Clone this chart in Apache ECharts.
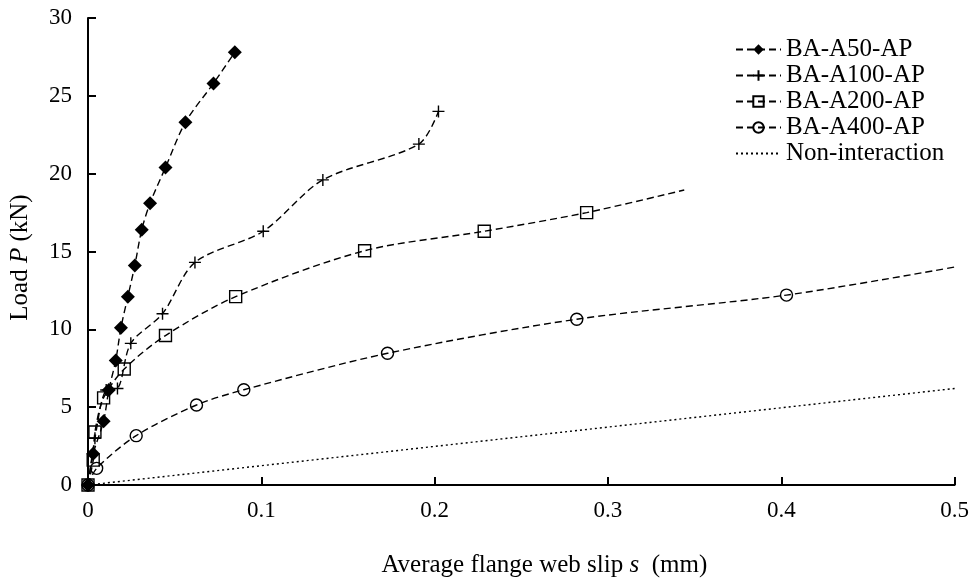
<!DOCTYPE html>
<html lang="en">
<head>
    <meta charset="UTF-8">
    <title>Load-slip</title>
    <style>
        html, body { margin: 0; padding: 0; background: #fff; }
    </style>
</head>
<body>
<script src="https://cdn.jsdelivr.net/npm/echarts@6/dist/echarts.min.js"></script>
<div id="main" style="width:972px;height:584px;"></div>

<script type="text/javascript">
    // values (slip in mm, load in kN)
    var a50Slip = [0, 0.003, 0.009, 0.012, 0.016, 0.019, 0.023, 0.027, 0.031, 0.0358, 0.0447, 0.0562, 0.0724, 0.0847];
    var a50Load = [0, 2.0, 4.1, 6.1, 8.0, 10.1, 12.1, 14.1, 16.4, 18.1, 20.4, 23.3, 25.8, 27.8];

    var a100Slip = [0, 0.004, 0.0105, 0.017, 0.0247, 0.043, 0.0617, 0.1011, 0.1355, 0.1909, 0.2022];
    var a100Load = [0, 3.0, 6.1, 6.2, 9.1, 11.0, 14.3, 16.3, 19.6, 21.9, 24.0];

    var a200Slip = [0, 0.003, 0.004, 0.009, 0.0209, 0.0447, 0.0852, 0.1596, 0.2286, 0.2877, 0.344];
    var a200Load = [0, 1.6, 3.4, 5.6, 7.45, 9.6, 12.1, 15.05, 16.3, 17.5, 18.95];

    var a400Slip = [0, 0.005, 0.0278, 0.0626, 0.0899, 0.1728, 0.282, 0.403, 0.5];
    var a400Load = [0, 1.07, 3.17, 5.14, 6.12, 8.46, 10.65, 12.2, 14.0];

    var nonSlip = [0, 0.5];
    var nonLoad = [0, 6.2];

    var seriesNames = ['BA-A50-AP', 'BA-A100-AP', 'BA-A200-AP', 'BA-A400-AP', 'Non-interaction'];
    var xTicks = [0, 0.1, 0.2, 0.3, 0.4, 0.5];
    var yTicks = [0, 5, 10, 15, 20, 25, 30];

    // build [x, y] points, last point optionally drawn without marker
    function pts(xs, ys, lastBare) {
        return xs.map(function (x, i) {
            var p = {value: [x, ys[i]]};
            if (lastBare && i === xs.length - 1) p.symbol = 'none';
            return p;
        });
    }

    var font = 'Liberation Serif';
    var dash = [7, 4];
    var nameRich = {
        a: {fontFamily: font, fontSize: 25, color: '#000'},
        i: {fontFamily: font, fontSize: 25, color: '#000', fontStyle: 'italic'}
    };

    var myChart = echarts.init(document.getElementById('main'));

    option = {
        backgroundColor: '#fff',
        animation: false,
        grid: {left: 88, right: 17, top: 18, bottom: 99, containLabel: false},
        legend: {
            orient: 'vertical',
            left: 730,
            top: 32,
            itemWidth: 45,
            itemHeight: 13,
            itemGap: 1,
            data: [
                seriesNames[0], seriesNames[1], seriesNames[2], seriesNames[3],
                {name: seriesNames[4], itemStyle: {opacity: 0}}
            ],
            textStyle: {fontFamily: font, fontSize: 25, color: '#000'}
        },
        xAxis: {
            type: 'value',
            min: 0,
            max: 0.5,
            interval: 0.1,
            name: '{a|Average flange web slip }{i|s}{a|  (mm)}',
            nameLocation: 'middle',
            nameGap: 68,
            nameTextStyle: {rich: nameRich, padding: [0, 0, 0, 46]},
            axisLine: {lineStyle: {color: '#000', width: 2}},
            axisTick: {inside: true, length: 8, lineStyle: {color: '#000', width: 2}},
            axisLabel: {
                margin: 14,
                fontFamily: font, fontSize: 23, color: '#000',
                formatter: function (v) { return xTicks.indexOf(+v.toFixed(1)) >= 0 ? String(+v.toFixed(1)) : ''; }
            },
            splitLine: {show: false}
        },
        yAxis: {
            type: 'value',
            min: 0,
            max: 30,
            interval: 5,
            name: '{a|Load }{i|P}{a| (kN)}',
            nameLocation: 'middle',
            nameGap: 55,
            nameTextStyle: {rich: nameRich, padding: [0, 12, 0, 0]},
            axisLine: {show: true, lineStyle: {color: '#000', width: 2}},
            axisTick: {show: true, inside: true, length: 8, lineStyle: {color: '#000', width: 2}},
            axisLabel: {
                margin: 16,
                fontFamily: font, fontSize: 23, color: '#000',
                formatter: function (v) { return yTicks.indexOf(v) >= 0 ? String(v) : ''; }
            },
            splitLine: {show: false}
        },
        series: [
            {
                name: seriesNames[0],
                type: 'line',
                smooth: 0.3,
                symbol: 'diamond',
                symbolSize: 14,
                itemStyle: {color: '#000'},
                lineStyle: {color: '#000', width: 1.4, type: dash},
                data: pts(a50Slip, a50Load, false)
            },
            {
                name: seriesNames[1],
                type: 'line',
                smooth: 0.3,
                symbol: 'path://M0,5L10,5M5,0L5,10',
                symbolSize: 12,
                itemStyle: {color: 'none', borderColor: '#000', borderWidth: 1.4},
                lineStyle: {color: '#000', width: 1.4, type: dash},
                data: pts(a100Slip, a100Load, false)
            },
            {
                name: seriesNames[2],
                type: 'line',
                smooth: 0.3,
                symbol: 'rect',
                symbolSize: 12,
                itemStyle: {color: 'none', borderColor: '#000', borderWidth: 1.4},
                lineStyle: {color: '#000', width: 1.4, type: dash},
                data: pts(a200Slip, a200Load, true)
            },
            {
                name: seriesNames[3],
                type: 'line',
                smooth: 0.3,
                symbol: 'circle',
                symbolSize: 12,
                itemStyle: {color: 'none', borderColor: '#000', borderWidth: 1.4},
                lineStyle: {color: '#000', width: 1.4, type: dash},
                data: pts(a400Slip, a400Load, true)
            },
            {
                name: seriesNames[4],
                type: 'line',
                symbol: 'none',
                itemStyle: {color: '#000'},
                lineStyle: {color: '#000', width: 1.4, type: [2, 3]},
                data: pts(nonSlip, nonLoad, false)
            }
        ]
    };
    myChart.setOption(option);
</script>
</body>
</html>
